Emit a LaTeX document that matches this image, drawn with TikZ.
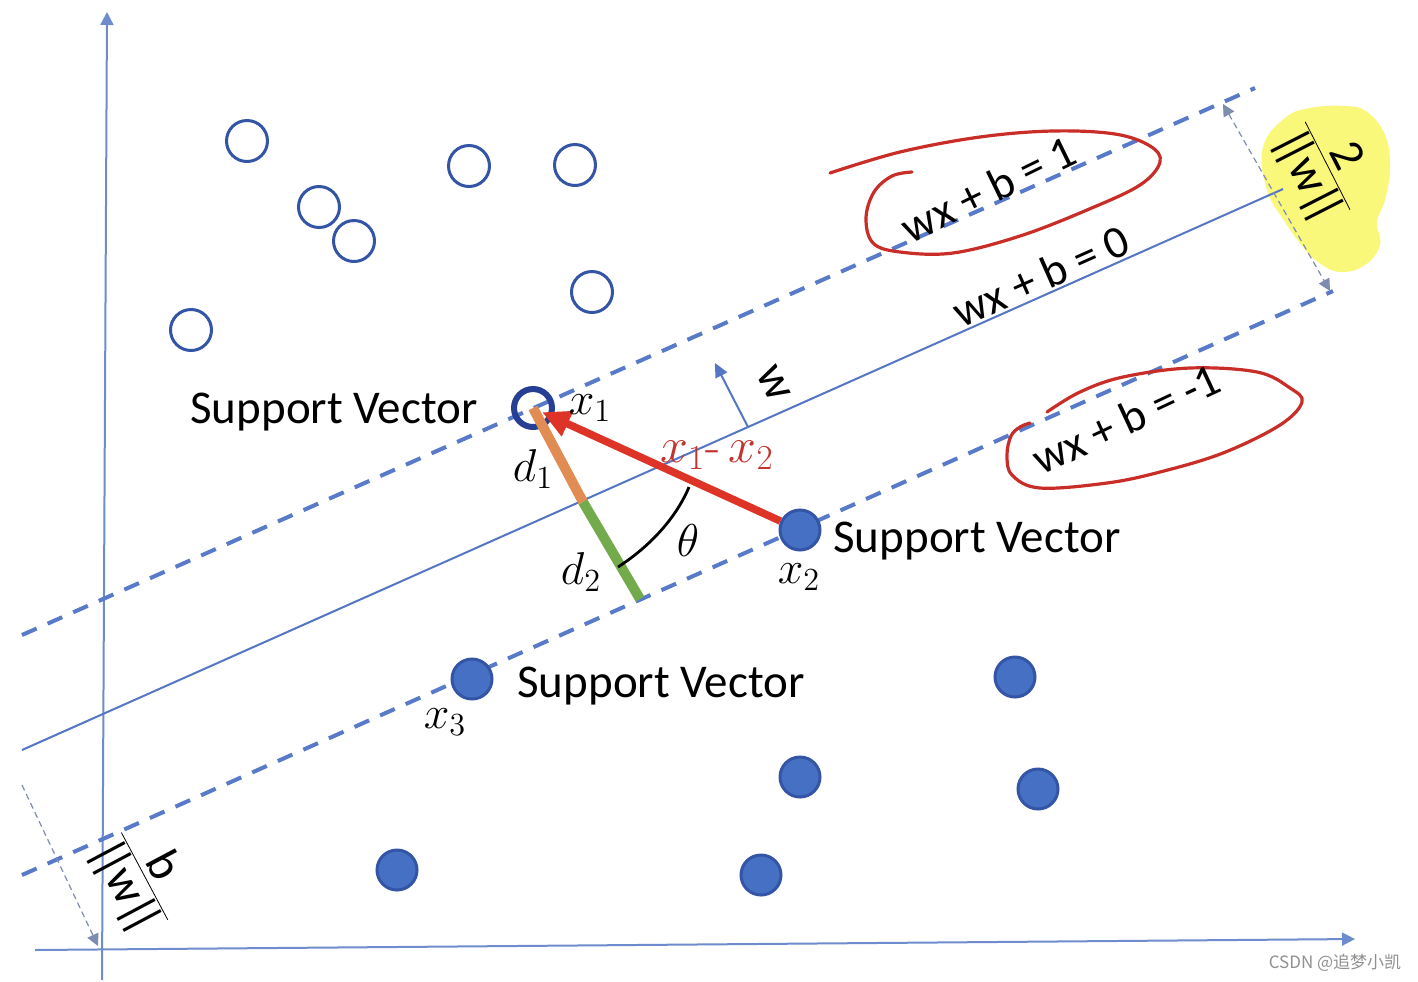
\RequirePackage{fix-cm}
\documentclass[tikz,border=0pt]{standalone}
\usepackage{fontspec}
\newfontfamily\calfont{Carlito}
\newfontfamily\cjkfont{Noto Sans CJK SC}
\usetikzlibrary{arrows.meta}
\definecolor{axisblue}{RGB}{110,140,205}
\definecolor{lineblue}{RGB}{85,118,196}
\definecolor{dashblue}{RGB}{88,122,200}
\definecolor{ptblue}{RGB}{70,112,196}
\definecolor{ptedge}{RGB}{52,84,165}
\definecolor{navy}{RGB}{38,62,148}
\definecolor{redarrow}{RGB}{222,52,40}
\definecolor{loopred}{RGB}{200,45,40}
\definecolor{hlyellow}{RGB}{250,248,122}
\definecolor{orangebar}{RGB}{225,140,82}
\definecolor{greenbar}{RGB}{115,170,75}
\definecolor{measgray}{RGB}{125,140,175}
\definecolor{wmgray}{RGB}{145,145,145}
\definecolor{labelred}{RGB}{195,50,45}
\newcommand{\normw}{|\kern-5pt|\kern-1pt w\kern-1pt|\kern-5pt|}
\tikzset{
  hollow/.style={circle, draw=ptedge, line width=1.5pt, minimum size=20.5pt, inner sep=0pt},
  filled/.style={circle, draw=ptedge, fill=ptblue, line width=1.5pt, minimum size=20pt, inner sep=0pt},
  svhollow/.style={circle, draw=navy, line width=3pt, minimum size=19pt, inner sep=0pt},
  svtext/.style={font=\calfont\fontsize{23.5}{26}\selectfont, inner sep=0pt, anchor=base west},
  eqtext/.style={font=\calfont\fontsize{23}{26}\selectfont, inner sep=0pt},
  fractext/.style={font=\calfont\fontsize{24}{27}\selectfont, inner sep=0pt},
  mathlbl/.style={font=\fontsize{23}{25}\selectfont, inner sep=0pt},
  axisline/.style={axisblue, line width=1pt, -{Triangle[length=6.5pt,width=6.5pt]}},
  sepline/.style={lineblue, line width=1pt},
  marginline/.style={dashblue, line width=2pt, dash pattern=on 8pt off 6pt},
  measline/.style={measgray, line width=0.6pt, dash pattern=on 3pt off 2pt},
  handloop/.style={loopred, line width=1.6pt, line cap=round, line join=round},
}
\begin{document}
\begin{tikzpicture}[x=0.5pt, y=-0.5pt]
\useasboundingbox (0,0) rectangle (1418,981);
\fill[white] (0,0) rectangle (1418,981);

% yellow highlight
\fill[hlyellow] plot[smooth cycle, tension=0.7] coordinates {
  (1263,147) (1285,118) (1310,108) (1345,106) (1367,112) (1385,135) (1390,167)
  (1385,200) (1377,222) (1380,245) (1365,265) (1340,272) (1318,262) (1303,247)
  (1285,222) (1267,190)};

% coordinates
\coordinate (yb) at (102,980);
\coordinate (yt) at (107,12);
\coordinate (xl) at (35,950);
\coordinate (xr) at (1355,939);
\coordinate (ul) at (22,635);
\coordinate (ur) at (1255,88);
\coordinate (ml) at (22,750);
\coordinate (mr) at (1283,189);
\coordinate (ll) at (22,875);
\coordinate (lr) at (1333,291);
\coordinate (m1a) at (1223,104);
\coordinate (m1b) at (1330,291);
\coordinate (m2a) at (22,785);
\coordinate (m2b) at (98,946);
\coordinate (wbase) at (748,427);
\coordinate (wtip) at (715,363);
\coordinate (dmid) at (583,502);
\coordinate (dbot) at (640,599);

% axes
\draw[axisline] (yb) -- (yt);
\draw[axisline] (xl) -- (xr);

% hyperplanes
\draw[sepline] (ml) -- (mr);
\draw[marginline] (ul) -- (ur);
\draw[marginline] (ll) -- (lr);

% measurement arrows
\draw[measline, {Triangle[length=6pt,width=6pt]}-{Triangle[length=6pt,width=6pt]}] (m1a) -- (m1b);
\draw[measline, -{Triangle[length=6pt,width=6pt]}] (m2a) -- (m2b);

% w arrow
\draw[sepline, -{Triangle[length=7pt,width=6.5pt]}] (wbase) -- (wtip);

% hollow points
\node[hollow] (h1) at (247,141) {};
\node[hollow] (h2) at (469,166) {};
\node[hollow] (h3) at (575,165) {};
\node[hollow] (h4) at (319,207) {};
\node[hollow] (h5) at (354,241) {};
\node[hollow] (h6) at (592,292) {};
\node[hollow] (h7) at (191,330) {};
\node[svhollow] (x1) at (533,408) {};

% filled points
\node[filled] (x2) at (800,530) {};
\node[filled] (x3) at (472,679) {};
\node[filled] (f1) at (1015,677) {};
\node[filled] (f2) at (800,777) {};
\node[filled] (f3) at (1038,789) {};
\node[filled] (f4) at (397,870) {};
\node[filled] (f5) at (761,875) {};

% hand-drawn loops
\draw[handloop] plot[smooth, tension=0.6] coordinates {
  (830,173) (900,152) (980,137) (1053,131) (1115,134) (1150,146) (1160,162)
  (1140,185) (1087,210) (1020,236) (953,253) (900,252) (873,243) (866,218)
  (874,192) (892,176) (912,172)};
\draw[handloop] plot[smooth, tension=0.6] coordinates {
  (1047,412) (1080,392) (1123,377) (1190,368) (1257,372) (1290,388) (1302,402)
  (1280,425) (1223,453) (1160,472) (1107,483) (1040,488) (1012,475) (1007,455)
  (1011,436) (1020,427) (1030,423)};

% distance bars
\draw[orangebar, line width=5pt] (x1.center) -- (dmid);
\draw[greenbar, line width=5pt] (dmid) -- (dbot);

% difference vector
\draw[redarrow, line width=3.8pt, shorten >=5pt, -{Triangle[length=14pt,width=13pt]}] (x2) -- (x1.center);

% angle arc
\draw[black, line width=1.4pt] (689,487) .. controls (677,516) and (652,545) .. (618,567);

% labels
\node[svtext] (sv1) at (190,423) {Support Vector};
\node[svtext] (sv2) at (833,552) {Support Vector};
\node[svtext] (sv3) at (517,697) {Support Vector};

\node[eqtext, rotate=26] (eq1) at (988,189) {wx + b = 1};
\node[eqtext, rotate=24] (eq0) at (1041,276) {wx + b = 0};
\node[eqtext, rotate=25] (eqm) at (1126,419) {wx + b = -1};

\node[fractext, rotate=-63] (fr1) at (1325,167) {$\frac{\mbox{2}}{\mbox{\normw}}$};
\node[fractext, rotate=-62] (fr2) at (143,877) {$\frac{\mbox{b}}{\mbox{\normw}}$};
\node[fractext, rotate=-63] (wl) at (774,384) {w};

\node[mathlbl] (lx1) at (590,408) {$x_1$};
\node[mathlbl] (ld1) at (533,469) {$d_1$};
\node[mathlbl] (ld2) at (581,572) {$d_2$};
\node[mathlbl] (lx2) at (799,577) {$x_2$};
\node[mathlbl] (lx3) at (445,722) {$x_3$};
\node[mathlbl] (lth) at (688,541) {$\theta$};
\node[mathlbl, font=\fontsize{25}{27}\selectfont, text=labelred] (ldiff) at (717,455) {$x_1$-\,$x_2$};

% watermark
\node[font=\cjkfont\fontsize{8.5}{10}\selectfont, text=wmgray, inner sep=0pt] (wm) at (1335,963) {CSDN @追梦小凯};
\end{tikzpicture}
\end{document}
